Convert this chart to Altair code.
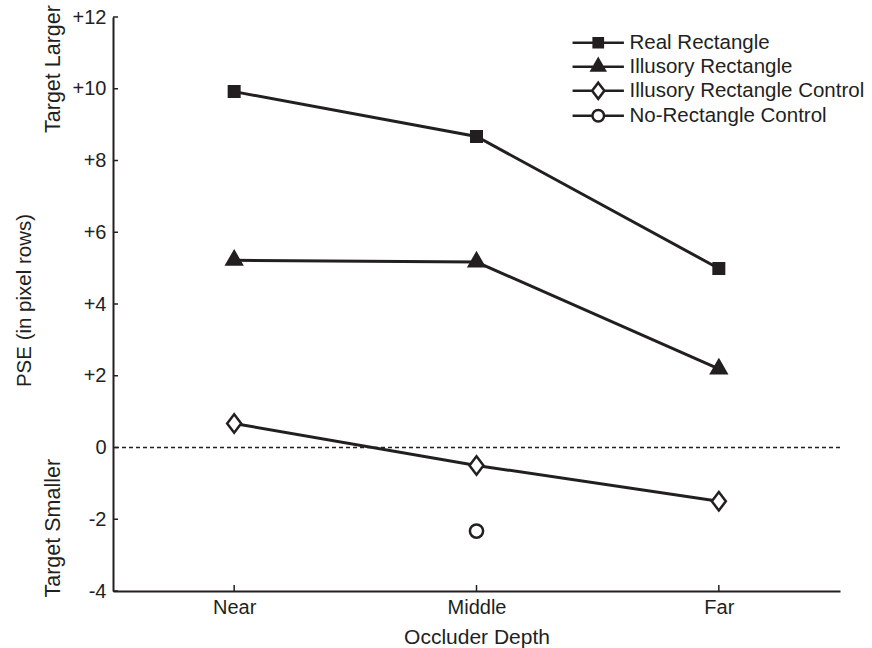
import altair as alt
import pandas as pd

DARK = "#231f20"
FONT = "Liberation Sans"

depths = ["Near", "Middle", "Far"]
series_names = ["Real Rectangle", "Illusory Rectangle",
                "Illusory Rectangle Control", "No-Rectangle Control"]
real_rect = [9.92, 8.67, 4.99]
illusory_rect = [5.22, 5.17, 2.19]
illusory_ctrl = [0.67, -0.50, -1.50]
no_rect_depths = ["Middle"]
no_rect = [-2.33]
y_ticks = [-4, -2, 0, 2, 4, 6, 8, 10, 12]
side_labels = ["Target Larger", "Target Smaller"]
side_label_pos = [10.55, -2.25]

# marker outlines (unit coordinates) and legend glyphs (line + marker)
point_paths = [
    "M-1.05,-1.05H1.05V1.05H-1.05Z",
    "M0,-1.75L1.5,0.85L-1.5,0.85Z",
    "M0,-1.84L1.4,0L0,1.84L-1.4,0Z",
    "M-1.32,0A1.32,1.32,0,1,0,1.32,0A1.32,1.32,0,1,0,-1.32,0Z",
]
legend_paths = [
    "M-5.85,0H5.85M-1.05,-1.05H1.05V1.05H-1.05Z",
    "M-5.85,0H5.85M0,-1.75L1.5,0.85L-1.5,0.85Z",
    "M-5.85,0H-1.4M1.4,0H5.85M0,-1.84L1.4,0L0,1.84L-1.4,0Z",
    "M-5.85,0H-1.32M1.32,0H5.85M-1.32,0A1.32,1.32,0,1,0,1.32,0A1.32,1.32,0,1,0,-1.32,0Z",
]
fills = [DARK, DARK, "white", "white"]
strokes = [DARK, DARK, DARK, DARK]

rows = []
for name, vals, ds in [
    (series_names[0], real_rect, depths),
    (series_names[1], illusory_rect, depths),
    (series_names[2], illusory_ctrl, depths),
    (series_names[3], no_rect, no_rect_depths),
]:
    for d, v in zip(ds, vals):
        rows.append({"series": name, "depth": d, "PSE": v, "idx": depths.index(d)})
df = pd.DataFrame(rows)

X = alt.X(
    "depth:N",
    sort=depths,
    scale=alt.Scale(type="point", padding=0.5, domain=depths),
    axis=alt.Axis(
        title="Occluder Depth", labelAngle=0, ticks=False, grid=False,
        domainColor=DARK, domainWidth=2,
        labelFont=FONT, labelFontSize=20, labelColor=DARK,
        labelPadding=22, labelBaseline="alphabetic",
        titleFont=FONT, titleFontSize=21, titleFontWeight="normal",
        titleColor=DARK, titleBaseline="alphabetic", titleY=52,
    ),
)
Y = alt.Y(
    "PSE:Q",
    scale=alt.Scale(domain=[-4, 12], nice=False, zero=False),
    axis=alt.Axis(
        title="PSE (in pixel rows)", values=y_ticks, ticks=False, grid=False,
        labelExpr="datum.value > 0 ? '+' + datum.value : '' + datum.value",
        domainColor=DARK, domainWidth=2,
        labelFont=FONT, labelFontSize=20, labelColor=DARK, labelPadding=7,
        titleFont=FONT, titleFontSize=20.5, titleFontWeight="normal",
        titleColor=DARK, titleX=-89, titleY=283, titleAngle=270,
        titleBaseline="middle", titleAlign="center",
    ),
)

zero_line = alt.Chart(pd.DataFrame({"PSE": [0]})).mark_rule(
    color=DARK, strokeWidth=1.3, strokeDash=[4, 3]
).encode(y=Y)

lines = alt.Chart(df).mark_line(color=DARK, strokeWidth=3).encode(
    x=X, y=Y, detail="series:N", order="idx:Q"
)

points = alt.Chart(df).mark_point(
    filled=True, opacity=1, size=100, stroke=DARK, strokeWidth=2.5
).encode(
    x=X, y=Y,
    shape=alt.Shape("series:N", scale=alt.Scale(domain=series_names, range=point_paths), legend=None),
    fill=alt.Fill("series:N", scale=alt.Scale(domain=series_names, range=fills), legend=None),
)

leg_props = dict(
    title=None, orient="none", legendX=475, legendY=15.5, padding=0,
    labelOffset=21, rowPadding=0, symbolSize=77, symbolStrokeWidth=2.5,
    symbolStrokeColor=DARK, labelFont=FONT, labelFontSize=20.5,
    labelColor=DARK, labelLimit=0,
)
legend_layer = alt.Chart(df).transform_filter("false").mark_point(
    filled=True, opacity=1, size=77, strokeWidth=2.5
).encode(
    shape=alt.Shape("series:N", scale=alt.Scale(domain=series_names, range=legend_paths),
                    legend=alt.Legend(**leg_props)),
    fill=alt.Fill("series:N", scale=alt.Scale(domain=series_names, range=fills),
                  legend=alt.Legend(**leg_props)),
    stroke=alt.Stroke("series:N", scale=alt.Scale(domain=series_names, range=strokes),
                      legend=alt.Legend(**leg_props)),
)

y_tick_marks = alt.Chart(pd.DataFrame({"PSE": y_ticks})).mark_rule(
    color=DARK, strokeWidth=1.5
).encode(y=Y, x=alt.value(0), x2=alt.value(5))

x_tick_marks = alt.Chart(pd.DataFrame({"depth": depths})).mark_rule(
    color=DARK, strokeWidth=1.5
).encode(x=X, y=alt.value(574), y2=alt.value(568))

side_text = alt.Chart(pd.DataFrame({"label": side_labels, "PSE": side_label_pos})).mark_text(
    angle=270, font=FONT, fontSize=21.5, color=DARK, align="center", baseline="middle"
).encode(y=Y, x=alt.value(-59.5), text="label:N")

chart = alt.layer(
    zero_line, lines, points, legend_layer, y_tick_marks, x_tick_marks, side_text
).resolve_scale(
    shape="independent", fill="independent", stroke="independent"
).properties(
    width=727, height=574,
    autosize=alt.AutoSizeParams(type="none"),
    padding={"left": 113, "top": 17, "right": 32, "bottom": 57},
    background="white",
).configure_view(stroke=None)

chart.save("out.html", embed_options={"renderer": "svg", "actions": False})
